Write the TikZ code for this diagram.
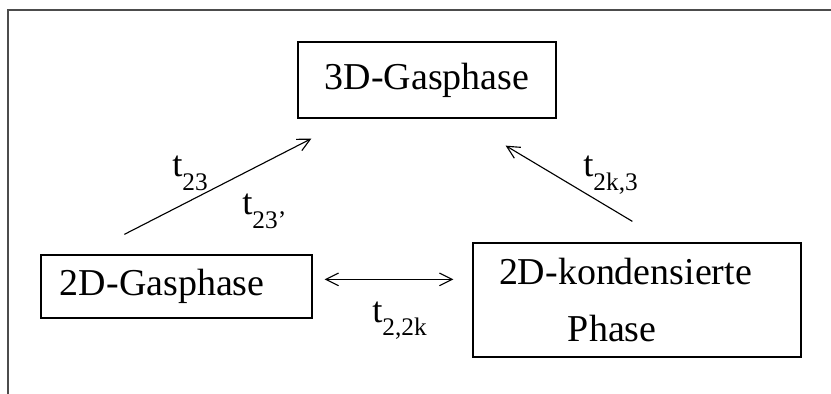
\documentclass[tikz,border=0pt]{standalone}
\usepackage{fontspec}
\setmainfont{Liberation Serif}
\usepackage{tikz}
\usetikzlibrary{calc,arrows.meta}
\newcommand{\trate}[1]{t\raisebox{-9.5pt}{\fontsize{18}{20}\selectfont #1}}

\begin{document}
\begin{tikzpicture}[x=0.025cm,y=-0.025cm,>={Straight Barb[length=9pt,width=9pt]},
    phase/.style={draw,line width=0.9pt,inner sep=0pt,font=\fontsize{27}{40.5}\selectfont},
    rate/.style={anchor=base west,inner sep=0pt,font=\fontsize{26}{30}\selectfont}]
        \useasboundingbox (0,0) rectangle (831,394);
        \draw[black!70,line width=1.2pt] (8,394) -- (8,10) -- (831,10);
        \node[phase,minimum width=258*0.025cm,minimum height=76*0.025cm] (g3) at (427,80) {3D-Gasphase};
        \node[phase,minimum width=271*0.025cm,minimum height=63*0.025cm,text width=233*0.025cm,align=left] (g2) at (176.5,286.5) {2D-Gasphase};
        \node[phase,minimum width=328*0.025cm,minimum height=114*0.025cm,text width=276*0.025cm,align=left] (k2) at (637,300) {2D-kondensierte\\\hspace*{49pt}Phase};
        \draw[->,line width=0.8pt] ($(g2.north west)+(84,-20)$) -- ($(g3.south west)+(14,20)$);
        \draw[->,line width=0.8pt] ($(k2.north west)+(160,-21)$) -- ($(g3.south east)+(-51,27)$);
        \draw[<->,line width=0.8pt] ($(g2.north east)+(12,25)$) -- ($(k2.north west)+(-19,37)$);
        \node[rate] (r23) at (172,177) {\trate{23}};
        \node[rate] (r23p) at (242,215) {\trate{23'}};
        \node[rate] (rk3) at (583,177) {\trate{2k,3}};
        \node[rate] (r2k) at (372,322) {\trate{2,2k}};
      \end{tikzpicture}
\end{document}
